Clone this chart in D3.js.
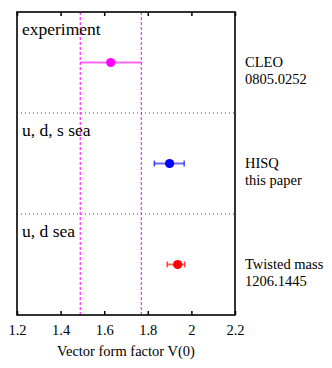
<!DOCTYPE html>
<html><head><meta charset="utf-8">
<script src="https://cdn.jsdelivr.net/npm/d3@7"></script>
<style>body{margin:0;background:#fff}svg{display:block}</style>
</head><body><div id="chart"></div>
<script>
const groups = ["experiment", "u, d, s sea", "u, d sea"];
const sources = [["CLEO", "0805.0252"], ["HISQ", "this paper"], ["Twisted mass", "1206.1445"]];
const values = [1.63, 1.90, 1.937];
const errLow = [1.49, 1.83, 1.889];
const errHigh = [1.77, 1.967, 1.969];
const colors = ["#ff00ff", "#0000ff", "#ff0000"];
const caps = [false, true, true];
const expBand = [1.49, 1.77];
const xTicks = [1.2, 1.4, 1.6, 1.8, 2.0, 2.2];
const xLabel = "Vector form factor V(0)";

const FF = "'Liberation Serif', 'Times New Roman', Times, serif";
const W = 332, H = 368;
const m = {l: 17, r: 97, t: 12, b: 53};
const svg = d3.select("#chart").append("svg").attr("width", W).attr("height", H)
  .style("font-family", FF);
const x = d3.scaleLinear().domain([1.2, 2.2]).range([m.l, W - m.r]);
const y = d3.scaleLinear().domain([0, 3]).range([m.t, H - m.b]);

// dashed experiment band lines
svg.selectAll("line.band").data(expBand).enter().append("line")
  .attr("x1", d => x(d)).attr("x2", d => x(d)).attr("y1", y(0)).attr("y2", y(3))
  .attr("stroke", "#ff00ff").attr("stroke-width", 1).attr("stroke-dasharray", "3,2");

// dotted separators
svg.selectAll("line.sep").data([1, 2]).enter().append("line")
  .attr("x1", x(1.2)).attr("x2", x(2.2)).attr("y1", d => y(d)).attr("y2", d => y(d))
  .attr("stroke", "#444").attr("stroke-width", 1).attr("stroke-dasharray", "1,3");

// axes with inward ticks
const fmt = d => String(+d.toFixed(1));
const axB = svg.append("g").attr("transform", `translate(0,${y(3)})`)
  .call(d3.axisBottom(x).tickValues(xTicks).tickSize(-4).tickPadding(10).tickFormat(fmt));
const axT = svg.append("g").attr("transform", `translate(0,${y(0)})`)
  .call(d3.axisTop(x).tickValues(xTicks).tickSize(-4).tickFormat(""));
[axB, axT].forEach(a => {
  a.attr("font-family", null).attr("font-size", null);
  a.select(".domain").remove();
  a.selectAll("line").attr("stroke", "#000").attr("stroke-width", 1.5);
});
axB.selectAll("text").style("font-family", FF).style("font-size", "14.5px").attr("fill", "#000").attr("dy", "0.71em");

// frame
svg.append("rect").attr("x", x(1.2)).attr("y", y(0)).attr("width", x(2.2) - x(1.2)).attr("height", y(3) - y(0))
  .attr("fill", "none").attr("stroke", "#000").attr("stroke-width", 1.6);

// error bars and points
const rows = d3.range(values.length);
const g = svg.selectAll("g.pt").data(rows).enter().append("g");
g.append("line")
  .attr("x1", i => x(errLow[i])).attr("x2", i => x(errHigh[i]))
  .attr("y1", i => y(i + 0.5)).attr("y2", i => y(i + 0.5))
  .attr("stroke", i => colors[i]).attr("stroke-opacity", 0.6).attr("stroke-width", 2);
g.filter(i => caps[i]).each(function(i) {
  d3.select(this).selectAll("line.cap").data([errLow[i], errHigh[i]]).enter().append("line")
    .attr("x1", d => x(d)).attr("x2", d => x(d))
    .attr("y1", y(i + 0.5) - 3).attr("y2", y(i + 0.5) + 3)
    .attr("stroke", colors[i]).attr("stroke-opacity", 0.7).attr("stroke-width", 1.5);
});
g.append("circle").attr("cx", i => x(values[i])).attr("cy", i => y(i + 0.5)).attr("r", 4.6)
  .attr("fill", i => colors[i]);

// group labels (left, inside)
svg.selectAll("text.grp").data(groups).enter().append("text")
  .attr("x", 22).attr("y", (d, i) => y(i) + 23)
  .style("font-family", FF).style("font-size", "17.5px").text(d => d);

// source labels (right)
sources.forEach((s, i) => {
  s.forEach((t, j) => {
    svg.append("text").attr("x", 245).attr("y", y(i + 0.5) + 4.5 + j * 17)
      .style("font-family", FF).style("font-size", "14.5px").text(t);
  });
});

// x label
svg.append("text").attr("x", (x(1.2) + x(2.2)) / 2).attr("y", 356)
  .attr("text-anchor", "middle").style("font-family", FF).style("font-size", "14.5px").text(xLabel);
</script></body></html>
